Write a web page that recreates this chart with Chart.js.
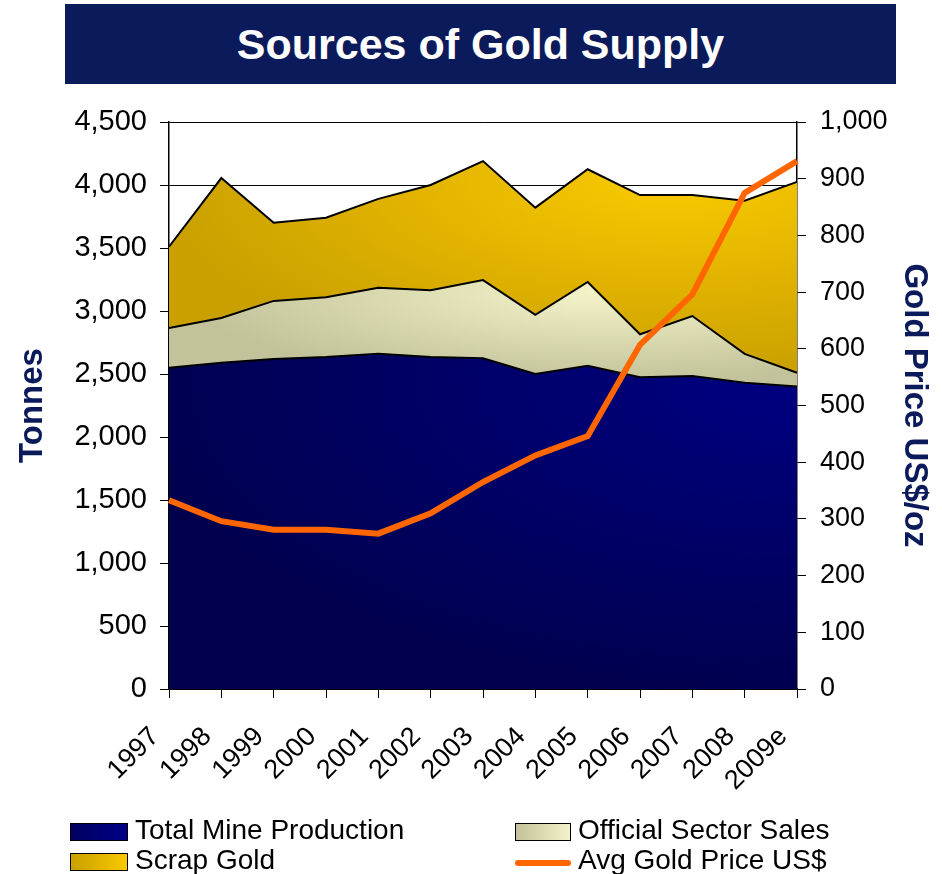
<!DOCTYPE html>
<html>
<head>
<meta charset="utf-8">
<title>Sources of Gold Supply</title>
<script src="https://cdn.jsdelivr.net/npm/chart.js@4.4.1/dist/chart.umd.min.js"></script>
<style>
  body { margin: 0; background: #fff; font-family: "Liberation Sans", Arial, sans-serif; }
  #wrap { position: relative; width: 942px; height: 874px; overflow: hidden; }
  #banner {
    position: absolute; left: 65px; top: 4px; width: 831px; height: 80px;
    background: #0b1a5a; color: #fff; font-weight: bold; font-size: 43px;
    line-height: 80px; text-align: center;
  }
  #chart { position: absolute; left: 0; top: 0; }
  #legend { position: absolute; left: 0; top: 0; width: 942px; height: 874px; }
  .lg-text { position: absolute; font-size: 28px; line-height: 28px; color: #000; white-space: nowrap; }
  .lg-box { position: absolute; box-sizing: border-box; border: 1.5px solid #000; }
  .lg-line { position: absolute; height: 6px; border-radius: 3px; }
</style>
</head>
<body>
<div id="wrap">
  <div id="banner">Sources of Gold Supply</div>
  <canvas id="chart" width="942" height="874"></canvas>
  <div id="legend"></div>
</div>
<script>
"use strict";

const years = ["1997", "1998", "1999", "2000", "2001", "2002", "2003", "2004", "2005", "2006", "2007", "2008", "2009e"];
// tonnes
const mineProduction = [2550, 2590, 2620, 2635, 2660, 2635, 2625, 2500, 2565, 2475, 2485, 2430, 2400];
const officialSales = [315, 355, 460, 475, 525, 530, 620, 470, 665, 340, 475, 230, 110];
const scrapGold = [645, 1110, 620, 630, 705, 835, 945, 850, 895, 1105, 960, 1215, 1515];
// US$ per ounce
const goldPrice = [333, 296, 281, 281, 274, 310, 365, 412, 446, 607, 696, 875, 931];

const NAVY = "#0b1a5a";
Chart.defaults.font.family = '"Liberation Sans", Arial, sans-serif';
Chart.defaults.color = "#000";

const fillCache = {};

// elliptical shading for an area fill, returned as a canvas pattern
function shade(name, cx, cy, rx, ry, stops) {
    return function (context) {
        const chart = context.chart;
        const area = chart.chartArea;
        if (!area) {
            return stops[stops.length - 1][1];
        }
        const key = name + area.width + "x" + area.height;
        if (fillCache[key]) {
            return fillCache[key];
        }
        const c = document.createElement("canvas");
        c.width = chart.width;
        c.height = chart.height;
        const g = c.getContext("2d");
        g.setTransform(rx / ry, 0, 0, 1, area.left + cx * area.width, area.top + cy * area.height);
        const grad = g.createRadialGradient(0, 0, 0, 0, 0, ry);
        for (const [pos, col] of stops) {
            grad.addColorStop(pos, col);
        }
        g.fillStyle = grad;
        g.fillRect(-5000, -5000, 10000, 10000);
        fillCache[key] = chart.ctx.createPattern(c, "no-repeat");
        return fillCache[key];
    };
}

function withCommas(v) {
    return Number(v).toLocaleString("en-US");
}

const ctx = document.getElementById("chart");

const myChart = new Chart(ctx, {
    type: "line",
    data: {
        labels: years,
        datasets: [
            {
                label: "Avg Gold Price US$",
                data: goldPrice,
                yAxisID: "y1",
                borderColor: "#ff6600",
                borderWidth: 6,
                pointRadius: 0,
                fill: false,
                order: 0
            },
            {
                label: "Total Mine Production",
                data: mineProduction,
                yAxisID: "y",
                fill: "origin",
                backgroundColor: shade("mine", 1.0, 0.45, 700, 330, [[0, "#000082"], [1, "#00004c"]]),
                borderColor: "#000",
                borderWidth: 2,
                pointRadius: 0,
                order: 1
            },
            {
                label: "Official Sector Sales",
                data: officialSales,
                yAxisID: "y",
                fill: 1,
                backgroundColor: shade("official", 0.69, 0.3, 420, 90, [[0, "#f4f3c9"], [1, "#c3c39b"]]),
                borderColor: "#000",
                borderWidth: 2,
                pointRadius: 0,
                order: 1
            },
            {
                label: "Scrap Gold",
                data: scrapGold,
                yAxisID: "y",
                fill: 2,
                backgroundColor: shade("scrap", 0.8, 0.1, 520, 200, [[0, "#f9ca00"], [0.5, "#e2b400"], [1, "#c9a000"]]),
                borderColor: "#000",
                borderWidth: 2,
                pointRadius: 0,
                order: 1
            }
        ]
    },
    options: {
        responsive: false,
        animation: false,
        layout: { padding: { top: 122, left: 0, right: 0, bottom: 0 } },
        plugins: {
            legend: { display: false },
            tooltip: { enabled: false }
        },
        elements: { line: { tension: 0 } },
        scales: {
            x: {
                offset: false,
                grid: { drawOnChartArea: false, drawTicks: true, tickLength: 9, color: "#000" },
                border: { color: "#000", width: 1.5 },
                ticks: {
                    autoSkip: false,
                    maxRotation: 45,
                    minRotation: 45,
                    padding: 23,
                    labelOffset: -14,
                    font: { size: 27 }
                },
                afterFit: (scale) => { scale.height = 185; }
            },
            y: {
                position: "left",
                stacked: true,
                min: 0,
                max: 4500,
                grid: { color: "#000", lineWidth: 1, tickLength: 9 },
                border: { color: "#000", width: 1.5 },
                ticks: { stepSize: 500, padding: 13, font: { size: 29 }, callback: withCommas },
                title: {
                    display: true,
                    text: "Tonnes",
                    color: NAVY,
                    font: { size: 33, weight: "bold" },
                    padding: { top: 13 }
                },
                afterFit: (scale) => { scale.width = 169; }
            },
            y1: {
                position: "right",
                min: 0,
                max: 1000,
                grid: { drawOnChartArea: false, color: "#000", tickLength: 9 },
                border: { color: "#000", width: 1.5 },
                ticks: { stepSize: 100, padding: 14, font: { size: 27 }, callback: withCommas },
                title: {
                    display: true,
                    text: "Gold Price US$/oz",
                    color: NAVY,
                    font: { size: 33, weight: "bold" },
                    padding: { top: 8 }
                },
                afterFit: (scale) => { scale.width = 145; }
            }
        }
    }
});

// legend in two columns, built from the chart's datasets
const legendOrder = ["Total Mine Production", "Official Sector Sales", "Scrap Gold", "Avg Gold Price US$"];
const legendSlots = [[70, 816], [515, 816], [70, 846], [515, 846]];
const swatches = {
    "Total Mine Production": "linear-gradient(90deg, #000060, #000088)",
    "Official Sector Sales": "linear-gradient(90deg, #c3c39b, #f3f2c8)",
    "Scrap Gold": "linear-gradient(90deg, #c9a000, #f8c900)"
};
const legend = document.getElementById("legend");

legendOrder.forEach((name, i) => {
    const ds = myChart.data.datasets.find((d) => d.label === name);
    const [lx, ly] = legendSlots[i];
    let mark = document.createElement("div");
    if (ds.fill === false) {
        mark.className = "lg-line";
        mark.style.left = lx + "px";
        mark.style.top = (ly + 14) + "px";
        mark.style.width = "56px";
        mark.style.background = ds.borderColor;
    } else {
        mark.className = "lg-box";
        mark.style.left = lx + "px";
        mark.style.top = (ly + 7) + "px";
        mark.style.width = (i % 2 ? 56 : 58) + "px";
        mark.style.height = "18px";
        mark.style.background = swatches[name];
    }
    legend.appendChild(mark);

    let text = document.createElement("div");
    text.className = "lg-text";
    text.style.left = (lx + (i % 2 ? 63 : 65)) + "px";
    text.style.top = ly + "px";
    text.textContent = ds.label;
    legend.appendChild(text);
});
</script>
</body>
</html>
